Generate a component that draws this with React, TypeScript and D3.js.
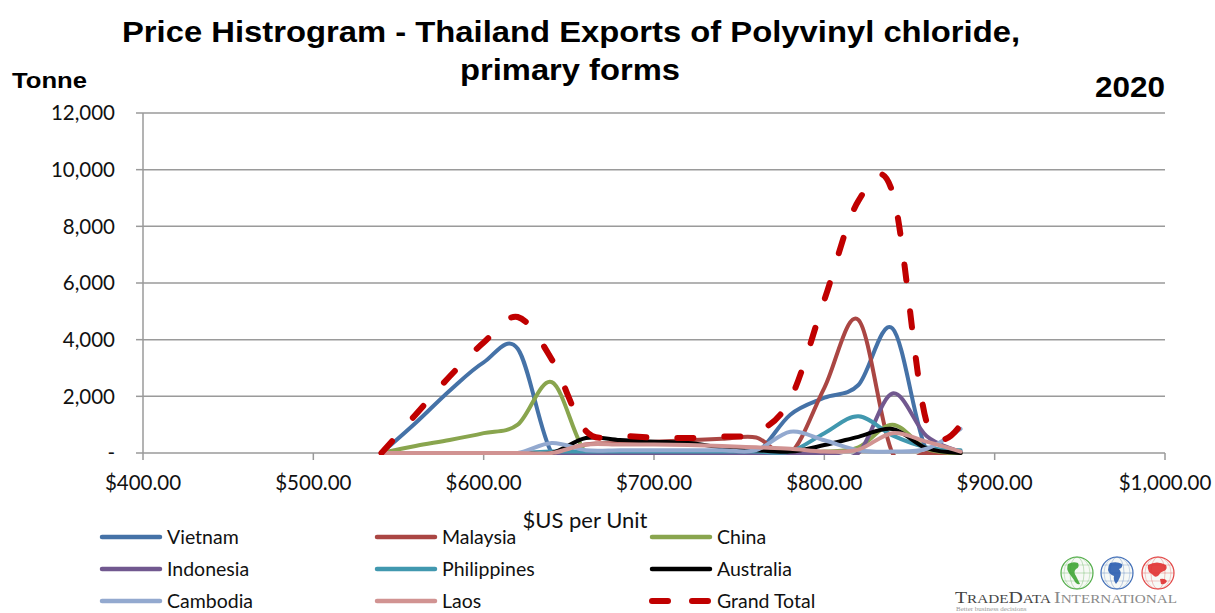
import React from 'react';
import * as d3 from 'd3';

// price buckets ($US per unit) and tonnes per bucket
const prices = [540, 560, 580, 600, 620, 640, 660, 680, 700, 720, 740, 760, 780, 800, 820, 840, 860, 880];

const vietnam = [0, 1060, 2200, 3200, 3680, 0, 0, 0, 0, 0, 0, 0, 1350, 1950, 2400, 4400, 100, 0];
const malaysia = [0, 0, 0, 0, 0, 0, 300, 350, 400, 450, 500, 550, 0, 2300, 4700, 0, 0, 0];
const china = [0, 250, 460, 700, 1000, 2500, 0, 0, 0, 0, 0, 0, 0, 50, 200, 1000, 150, 0];
const indonesia = [0, 0, 0, 0, 0, 0, 0, 0, 0, 0, 0, 0, 0, 0, 0, 2100, 600, 50];
const philippines = [0, 0, 0, 0, 0, 50, 50, 50, 50, 50, 50, 50, 50, 700, 1300, 620, 200, 100];
const australia = [0, 0, 0, 0, 0, 0, 530, 460, 400, 350, 200, 100, 50, 280, 570, 850, 170, 0];
const cambodia = [0, 0, 0, 0, 0, 350, 100, 100, 100, 100, 100, 100, 750, 450, 100, 50, 150, 850];
const laos = [0, 0, 0, 0, 0, 0, 300, 300, 300, 280, 250, 200, 150, 50, 120, 700, 400, 50];
const grandTotal = [0, 1350, 2700, 3900, 4800, 3300, 780, 620, 540, 530, 580, 720, 1900, 5400, 8900, 9200, 1100, 1000];

const yTicks = [0, 2000, 4000, 6000, 8000, 10000, 12000];
const xTicks = [400, 500, 600, 700, 800, 900, 1000];

const series = [
  { name: 'Vietnam', values: vietnam, color: '#4572A7' },
  { name: 'Malaysia', values: malaysia, color: '#AA4643' },
  { name: 'China', values: china, color: '#89A54E' },
  { name: 'Indonesia', values: indonesia, color: '#71588F' },
  { name: 'Philippines', values: philippines, color: '#4198AF' },
  { name: 'Australia', values: australia, color: '#000000' },
  { name: 'Cambodia', values: cambodia, color: '#93A9CF' },
  { name: 'Laos', values: laos, color: '#D19392' },
  { name: 'Grand Total', values: grandTotal, color: '#C00000', dashed: true },
];

const W = 1215;
const H = 613;
const plot = { left: 143, right: 1165, top: 113, bottom: 453 };

const sans = "Lato, 'Liberation Sans', sans-serif";
const bold = "'Liberation Sans', Arial, sans-serif";
const serif = "'Liberation Serif', 'DejaVu Serif', serif";

// one small globe of the logo
const Globe: React.FC<{ cx: number; cy: number; color: string; land: string }> = ({ cx, cy, color, land }) => (
  <g>
    <circle cx={cx} cy={cy} r={16} fill="#f7f9f6" stroke={color} strokeWidth={1.2} opacity={0.9} />
    <ellipse cx={cx} cy={cy} rx={7} ry={16} fill="none" stroke={color} strokeWidth={0.6} opacity={0.5} />
    <ellipse cx={cx} cy={cy} rx={13} ry={16} fill="none" stroke={color} strokeWidth={0.6} opacity={0.4} />
    <line x1={cx - 16} x2={cx + 16} y1={cy} y2={cy} stroke={color} strokeWidth={0.6} opacity={0.5} />
    <line x1={cx - 14} x2={cx + 14} y1={cy - 8} y2={cy - 8} stroke={color} strokeWidth={0.6} opacity={0.4} />
    <line x1={cx - 14} x2={cx + 14} y1={cy + 8} y2={cy + 8} stroke={color} strokeWidth={0.6} opacity={0.4} />
    <path d={land} transform={`translate(${cx},${cy})`} fill={color} opacity={0.9} />
  </g>
);

const App: React.FC = () => {
  const x = d3.scaleLinear().domain([400, 1000]).range([plot.left, plot.right]);
  const y = d3.scaleLinear().domain([0, 12000]).range([plot.bottom, plot.top]);

  // Excel-style smoothing is close to a uniform Catmull-Rom spline
  const line = d3.line<number>()
    .x((_, i) => x(prices[i]))
    .y(d => y(d))
    .curve(d3.curveCatmullRom.alpha(0));

  const fmtY = (v: number) => (v === 0 ? '-' : d3.format(',')(v));
  const fmtX = (v: number) => '$' + d3.format(',.2f')(v);

  const legendCols = [100, 375, 650];
  const legendRows = [537, 569, 601];

  return (
    <div style={{ position: 'fixed', left: 0, top: 0 }}>
      <svg width={W} height={H} style={{ display: 'block', background: '#fff' }}>
        <defs>
          <clipPath id="plotClip">
            <rect x={plot.left} y={plot.top - 20} width={plot.right - plot.left + 10} height={plot.bottom - plot.top + 22} />
          </clipPath>
        </defs>

        {/* titles */}
        <text x={571} y={42} textAnchor="middle" fontFamily={bold} fontWeight="bold" fontSize={29}
          textLength={898} lengthAdjust="spacingAndGlyphs">
          Price Histrogram - Thailand Exports of Polyvinyl chloride,
        </text>
        <text x={570} y={80} textAnchor="middle" fontFamily={bold} fontWeight="bold" fontSize={29}
          textLength={220} lengthAdjust="spacingAndGlyphs">
          primary forms
        </text>
        <text x={1095} y={97} fontFamily={bold} fontWeight="bold" fontSize={29}
          textLength={70} lengthAdjust="spacingAndGlyphs">2020</text>
        <text x={12} y={88} fontFamily={bold} fontWeight="bold" fontSize={22}
          textLength={75} lengthAdjust="spacingAndGlyphs">Tonne</text>

        {/* gridlines */}
        {yTicks.filter(t => t > 0).map(t => (
          <line key={t} x1={plot.left} x2={plot.right} y1={y(t)} y2={y(t)} stroke="#9a9a9a" strokeWidth={1.5} />
        ))}

        {/* axes */}
        <line x1={plot.left} x2={plot.left} y1={plot.top} y2={plot.bottom} stroke="#9a9a9a" strokeWidth={1.5} />
        <line x1={plot.left} x2={plot.right} y1={plot.bottom} y2={plot.bottom} stroke="#9a9a9a" strokeWidth={1.5} />
        {yTicks.map(t => (
          <g key={t}>
            <line x1={plot.left - 7} x2={plot.left} y1={y(t)} y2={y(t)} stroke="#9a9a9a" strokeWidth={1.5} />
            <text x={115} y={y(t)} dy="0.35em" textAnchor="end" fontFamily={sans} fontSize={20.5} fill="#111">
              {fmtY(t)}
            </text>
          </g>
        ))}
        {xTicks.map(t => (
          <g key={t}>
            <line x1={x(t)} x2={x(t)} y1={plot.bottom} y2={plot.bottom + 7} stroke="#9a9a9a" strokeWidth={1.5} />
            <text x={x(t)} y={490} textAnchor="middle" fontFamily={sans} fontSize={20.5} fill="#111">
              {fmtX(t)}
            </text>
          </g>
        ))}
        <text x={585} y={528} textAnchor="middle" fontFamily={sans} fontSize={22} fill="#111">$US per Unit</text>

        {/* series */}
        <g clipPath="url(#plotClip)">
          {series.map(s => (
            <path
              key={s.name}
              d={line(s.values) || ''}
              fill="none"
              stroke={s.color}
              strokeWidth={s.dashed ? 6 : 4}
              strokeLinecap="round"
              strokeLinejoin="round"
              strokeDasharray={s.dashed ? '16 31' : undefined}
            />
          ))}
        </g>

        {/* legend */}
        {series.map((s, i) => {
          const lx = legendCols[i % 3];
          const ly = legendRows[Math.floor(i / 3)];
          return (
            <g key={s.name}>
              <line
                x1={lx + 2}
                x2={lx + 60}
                y1={ly}
                y2={ly}
                stroke={s.color}
                strokeWidth={s.dashed ? 6 : 4.5}
                strokeLinecap="round"
                strokeDasharray={s.dashed ? '16 24' : undefined}
              />
              <text x={lx + 67} y={ly} dy="0.36em" fontFamily={sans} fontSize={19.5} fill="#111">{s.name}</text>
            </g>
          );
        })}

        {/* logo */}
        <Globe cx={1077} cy={573} color="#3fa535"
          land="M-9,-9 q5,-3 10,-1 q2,4 -2,6 q-3,3 0,7 q2,4 4,8 q-4,1 -6,-4 q-3,-4 -5,-7 q-3,-4 -1,-9z" />
        <Globe cx={1117} cy={573} color="#2a5db0"
          land="M-7,-10 q7,-2 12,1 q1,4 -3,5 q3,3 1,8 q-2,5 -4,7 q-3,-4 -2,-8 q-5,-2 -6,-6 q0,-4 2,-7z" />
        <Globe cx={1158} cy={573} color="#e03030"
          land="M-10,-8 q9,-5 18,0 q2,4 -2,6 q-4,1 -5,4 q-3,3 -5,1 q-3,-3 -5,-4 q-2,-4 -1,-7z M2,6 q5,-1 7,2 q-2,4 -6,3z" />
        <text x={955} y={603} fontFamily={serif} fill="#444" textLength={222} lengthAdjust="spacingAndGlyphs">
          <tspan fontSize={17}>T</tspan>
          <tspan fontSize={13}>RADE</tspan>
          <tspan fontSize={17}>D</tspan>
          <tspan fontSize={13}>ATA </tspan>
          <tspan fontSize={17} fill="#8a8a8a">I</tspan>
          <tspan fontSize={13} fill="#8a8a8a">NTERNATIONAL</tspan>
        </text>
        <text x={956} y={611} fontFamily={serif} fontSize={7} fill="#999">Better business decisions</text>
      </svg>
    </div>
  );
};

export default App;
